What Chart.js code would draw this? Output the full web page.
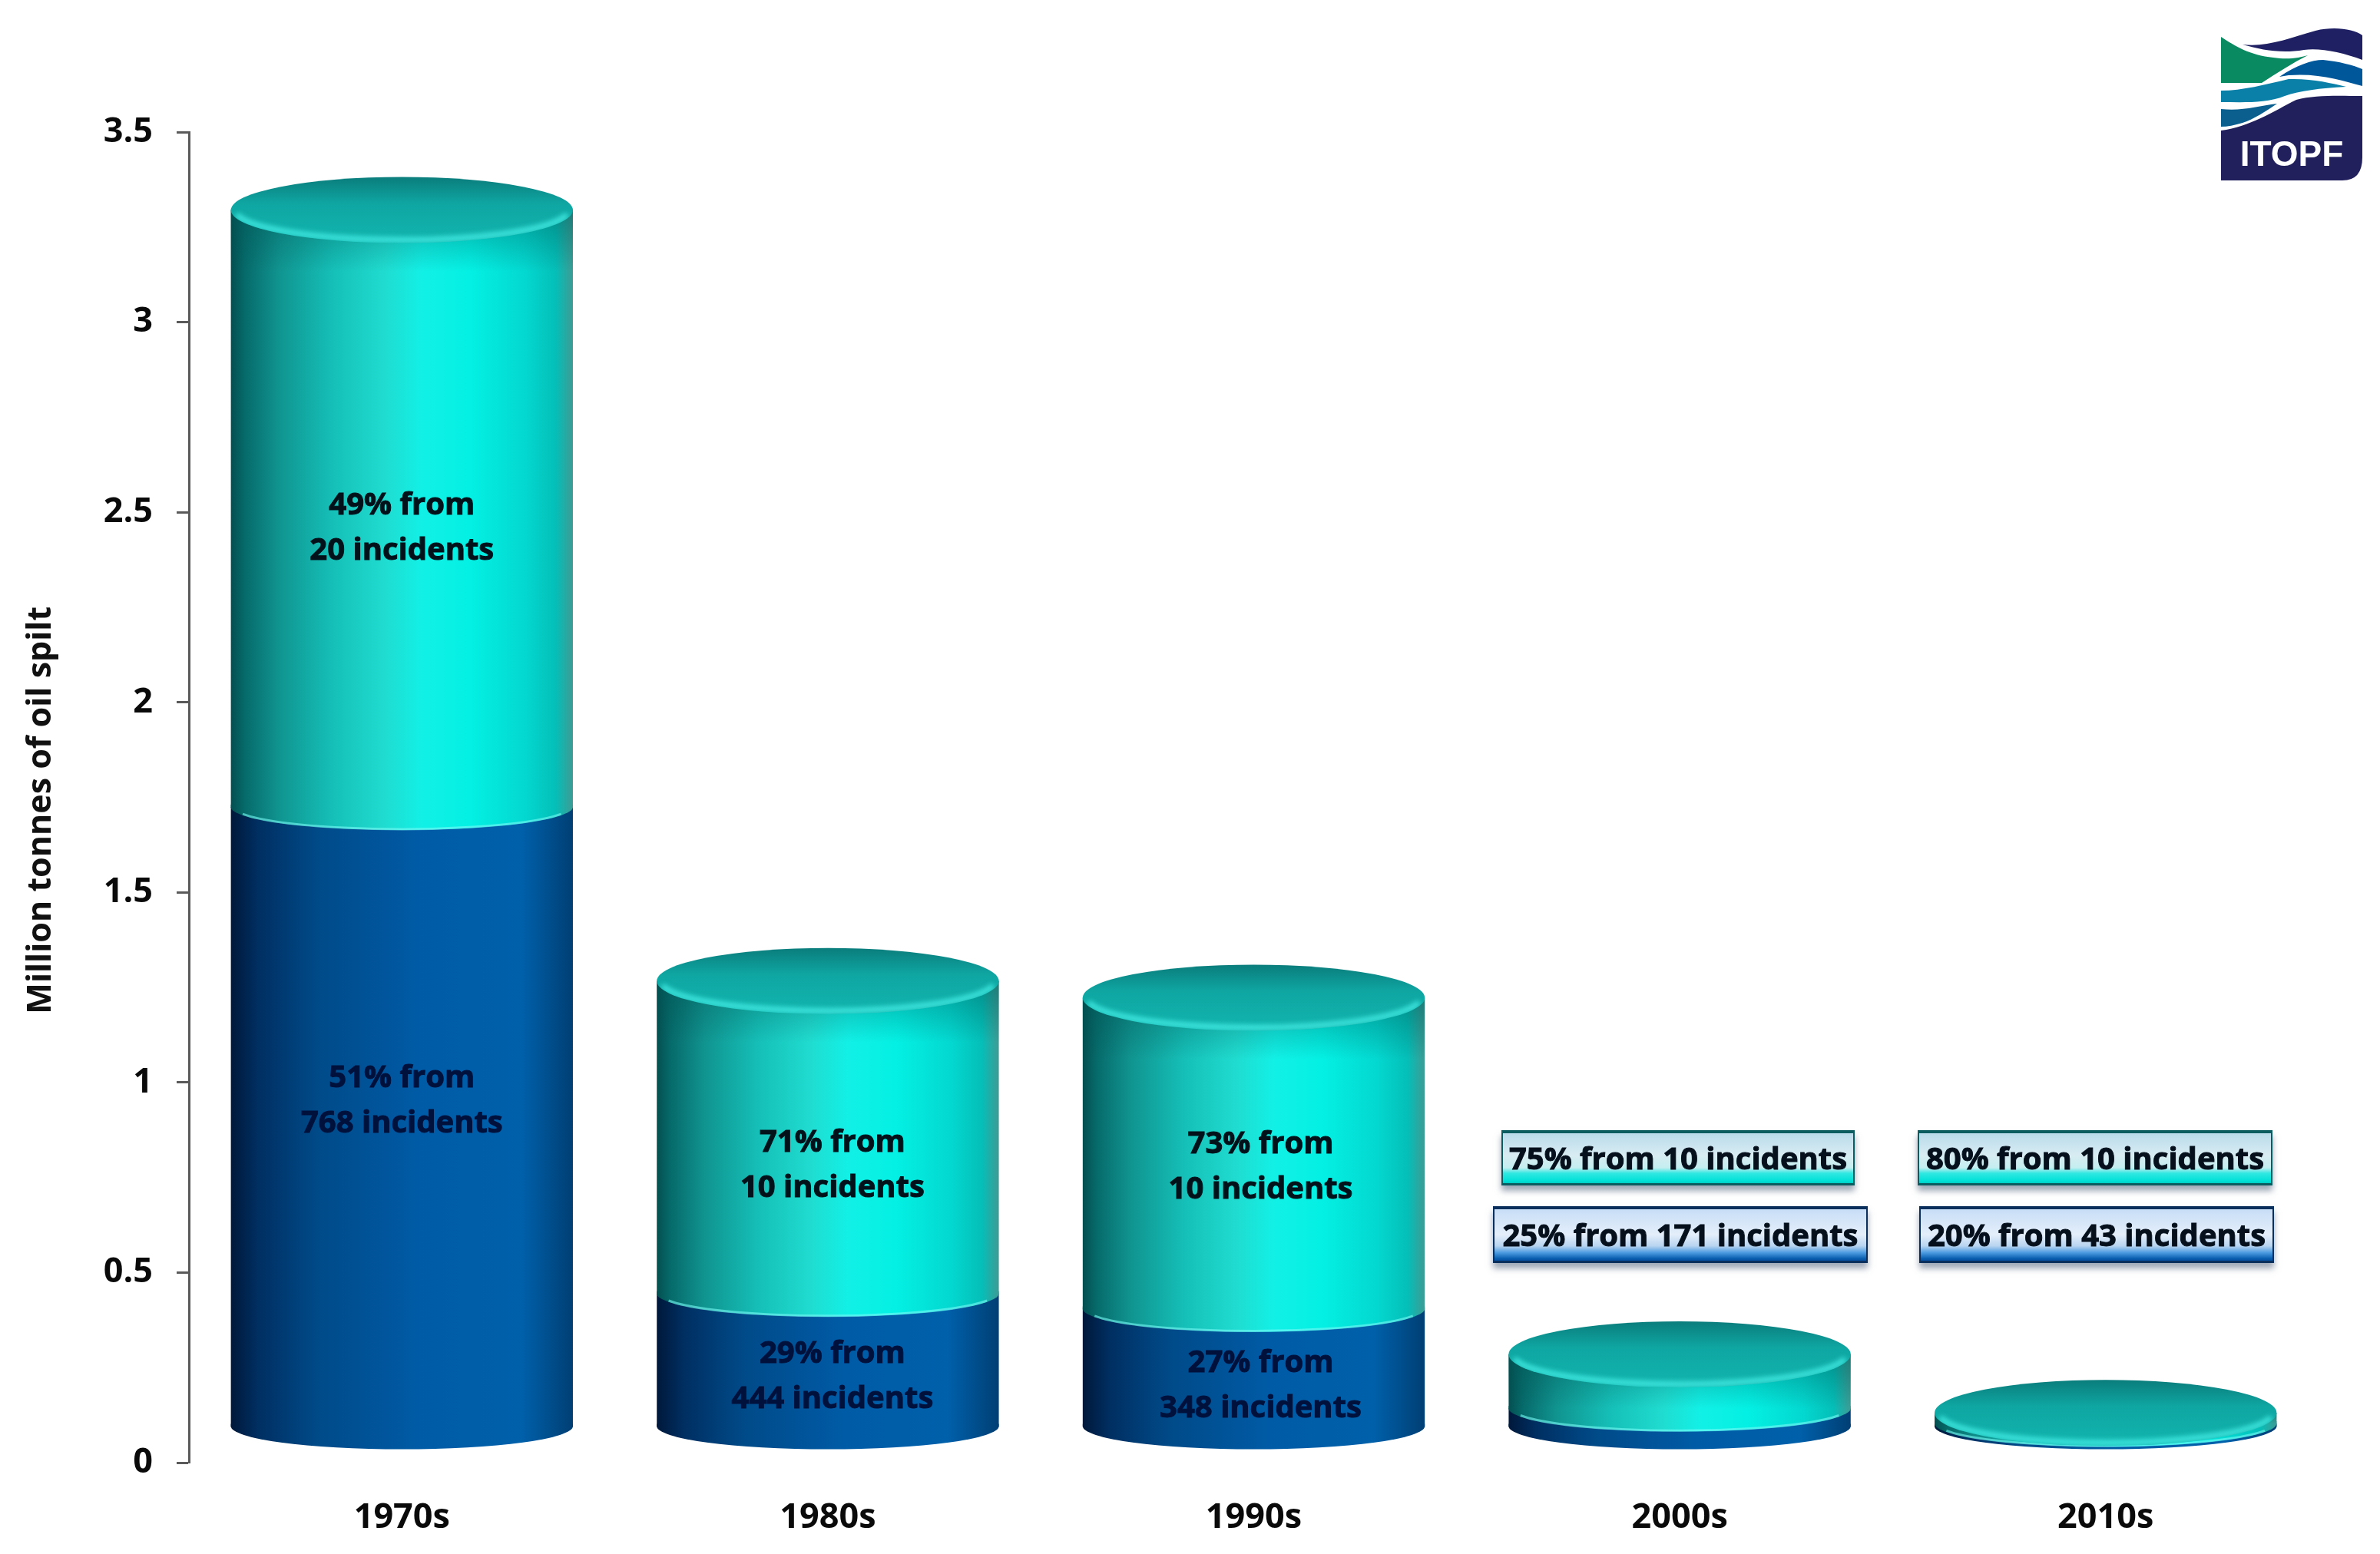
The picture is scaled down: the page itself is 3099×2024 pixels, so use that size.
<!DOCTYPE html>
<html>
<head>
<meta charset="utf-8">
<title>Oil spilt per decade</title>
<script src="https://cdn.jsdelivr.net/npm/chart.js@4/dist/chart.umd.min.js"></script>
<style>
html, body { margin: 0; padding: 0; background: #fff; }
canvas { display: block; }
</style>
</head>
<body>
<canvas id="spill-chart" width="3099" height="2024"></canvas>
<script>
// chart values (million tonnes)
const decades = ['1970s', '1980s', '1990s', '2000s', '2010s'];
const blueValues = [1.63, 0.35, 0.31, 0.048, 0.008];
const tealValues = [1.57, 0.822, 0.818, 0.142, 0.028];
const tealNotes = [['49% from', '20 incidents'], ['71% from', '10 incidents'], ['73% from', '10 incidents']];
const blueNotes = [['51% from', '768 incidents'], ['29% from', '444 incidents'], ['27% from', '348 incidents']];
const tealBoxes = ['75% from 10 incidents', '80% from 10 incidents'];
const blueBoxes = ['25% from 171 incidents', '20% from 43 incidents'];
const axisTitle = 'Million tonnes of oil spilt';
const logoName = 'ITOPF';

const FONT = '"Open Sans", "DejaVu Sans", sans-serif';
const BAR_SHARE = 0.803;
const LIFT = 47;        // the cylinders float above zero, as in the 3D original
const BASE_RY = 30;
const TOP_RY = 43;

function sideGradient(chart, i, stops) {
    const scale = chart.scales.x;
    const half = scale.width / decades.length * BAR_SHARE / 2;
    const x = scale.getPixelForValue(i);
    // options get resolved once before the first layout
    if (!Number.isFinite(x) || !Number.isFinite(half)) return stops[0][1];
    const g = chart.ctx.createLinearGradient(x - half, 0, x + half, 0);
    stops.forEach(s => g.addColorStop(s[0], s[1]));
    return g;
}

const TEAL_STOPS = [[0, '#044f50'], [0.04, '#066a6a'], [0.14, '#109490'], [0.3, '#15c0b8'], [0.45, '#20dcd0'], [0.56, '#12f0e6'], [0.7, '#04f0e4'], [0.86, '#03d8d0'], [0.95, '#04bfb8'], [1, '#3e9b94']];
const BLUE_STOPS = [[0, '#00183a'], [0.08, '#002f62'], [0.25, '#004a88'], [0.55, '#005ba6'], [0.85, '#0060aa'], [1, '#003f74']];

function ellipsePath(ctx, x, y, rx, ry, from, to) {
    ctx.beginPath();
    ctx.ellipse(x, y, rx, ry, 0, from, to);
}

function drawNote(ctx, x, y, lines, color) {
    ctx.fillStyle = color;
    ctx.strokeStyle = color;
    ctx.lineWidth = 1;
    ctx.font = 'bold 40px ' + FONT;
    ctx.textAlign = 'center';
    ctx.textBaseline = 'middle';
    lines.forEach((line, n) => {
        const ly = y + 4 + (n - (lines.length - 1) / 2) * 59;
        ctx.fillText(line, x, ly);
        ctx.strokeText(line, x, ly);
    });
}

function drawBox(ctx, cx, y, w, h, text, stops, edge) {
    const x = cx - w / 2;
    ctx.save();
    ctx.shadowColor = 'rgba(60,80,110,0.5)';
    ctx.shadowBlur = 8;
    ctx.shadowOffsetY = 7;
    const g = ctx.createLinearGradient(0, y, 0, y + h);
    stops.forEach(s => g.addColorStop(s[0], s[1]));
    ctx.fillStyle = g;
    ctx.fillRect(x, y, w, h);
    ctx.restore();
    ctx.fillStyle = edge;
    ctx.fillRect(x, y, w, 4);
    ctx.fillRect(x, y, 2, h);
    ctx.fillRect(x + w - 2, y, 2, h);
    ctx.fillRect(x, y + h - 3, w, 3);
    drawNote(ctx, cx, y + h / 2, [text], '#05101c');
}

function drawLogo(ctx) {
    ctx.save();
    ctx.translate(2850, 0);
    const shapes = [
        ['#211f5c', 'M42 170C80 165 110 145 140 130C165 123 200 125 226 125L226 205Q226 235 200 235L42 235Z'],
        ['#1f2063', 'M70 58C100 62 130 50 165 40C190 34 215 38 226 46L226 78C200 68 170 62 150 65C120 70 95 65 70 58Z'],
        ['#0a8a60', 'M42 48C60 60 80 72 110 75C130 78 145 75 155 72C135 82 115 95 95 108L42 108Z'],
        ['#00579a', 'M118 100C140 85 160 78 175 78C195 80 215 85 226 90L226 112C200 105 170 95 130 98Z'],
        ['#0a80a8', 'M42 118C70 118 100 110 130 103C160 102 185 108 205 113C170 115 145 118 125 125C100 135 70 133 42 133Z'],
        ['#0a5f8f', 'M42 142C70 145 90 138 115 135C100 145 85 155 70 160C60 163 50 165 42 165Z']
    ];
    shapes.forEach(s => { ctx.fillStyle = s[0]; ctx.fill(new Path2D(s[1])); });
    ctx.fillStyle = '#fff';
    ctx.font = 'bold 46px "Liberation Sans", sans-serif';
    ctx.textAlign = 'center';
    ctx.textBaseline = 'middle';
    ctx.fillText(logoName, 134, 203);
    ctx.restore();
}

const cylinders = {
    id: 'cylinders',
    beforeDatasetDraw(chart) {
        chart.ctx.save();
        chart.ctx.translate(0, -LIFT);
    },
    afterDatasetDraw(chart) {
        chart.ctx.restore();
    },
    afterDatasetsDraw(chart) {
        const ctx = chart.ctx;
        const y = chart.scales.y;
        const blue = chart.getDatasetMeta(0).data;
        const teal = chart.getDatasetMeta(1).data;

        ctx.save();
        ctx.translate(0, -LIFT);
        blue.forEach((bar, i) => {
            const r = bar.width / 2;
            ctx.fillStyle = sideGradient(chart, i, BLUE_STOPS);
            // overlap the wall a little so no seam shows
            ctx.fillRect(bar.x - r, bar.base - 3, bar.width, 4);
            ellipsePath(ctx, bar.x, bar.base, r, BASE_RY, 0, Math.PI);
            ctx.fill();
        });
        teal.forEach((bar, i) => {
            const r = bar.width / 2;
            ctx.fillStyle = sideGradient(chart, i, TEAL_STOPS);
            ctx.fillRect(bar.x - r, bar.base - 3, bar.width, 4);
            ellipsePath(ctx, bar.x, bar.base, r, BASE_RY, 0, Math.PI);
            ctx.fill();
            ctx.strokeStyle = 'rgba(120,250,245,0.6)';
            ctx.lineWidth = 3;
            ellipsePath(ctx, bar.x, bar.base - 1, r - 2, BASE_RY, 0.35, Math.PI - 0.35);
            ctx.stroke();

            // shade of the rim on the side wall
            const shadeH = Math.min(80, bar.base - bar.y);
            const shade = ctx.createLinearGradient(0, bar.y, 0, bar.y + shadeH);
            shade.addColorStop(0, 'rgba(0,80,80,0.45)');
            shade.addColorStop(1, 'rgba(0,80,80,0)');
            ctx.fillStyle = shade;
            ctx.fillRect(bar.x - r, bar.y, bar.width, shadeH);

            // cap
            const cap = ctx.createLinearGradient(0, bar.y - TOP_RY, 0, bar.y + TOP_RY);
            cap.addColorStop(0, '#0a7d7c');
            cap.addColorStop(0.4, '#0fa6a2');
            cap.addColorStop(1, '#12b5ae');
            ctx.fillStyle = cap;
            ellipsePath(ctx, bar.x, bar.y, r, TOP_RY, 0, Math.PI * 2);
            ctx.fill();
            ctx.save();
            ctx.clip();
            ctx.filter = 'blur(3px)';
            ctx.strokeStyle = 'rgba(70,240,232,0.85)';
            ctx.lineWidth = 7;
            ellipsePath(ctx, bar.x, bar.y, r - 5, TOP_RY - 4, 0.15, Math.PI - 0.15);
            ctx.stroke();
            ctx.restore();
        });
        ctx.restore();

        // notes sit at these values on the axis, a little right of the centre as in the original
        const tealAt = [2.465, 0.79, 0.785];
        const blueAt = [0.96, 0.235, 0.21];
        const noteShift = [0, 6, 9];
        tealNotes.forEach((lines, i) => drawNote(ctx, teal[i].x + noteShift[i], y.getPixelForValue(tealAt[i]), lines, '#03121a'));
        blueNotes.forEach((lines, i) => drawNote(ctx, blue[i].x + noteShift[i], y.getPixelForValue(blueAt[i]), lines, '#00113c'));

        const tealBoxStops = [[0, '#b5d8ea'], [0.45, '#d8ecf2'], [0.68, '#c4eef0'], [0.78, '#30e8e2'], [0.92, '#00e0d8'], [1, '#00b8b0']];
        const blueBoxStops = [[0, '#c4dcf6'], [0.5, '#e4eefa'], [0.7, '#b8d4f0'], [0.82, '#4a9ae0'], [0.92, '#0a5fb0'], [1, '#003c8c']];
        const boxCenters = [[2185, 2188], [2728, 2730]];
        const boxWidths = [[460, 488], [462, 462]];
        tealBoxes.forEach((text, i) => drawBox(ctx, boxCenters[i][0], 1472, boxWidths[i][0], 72, text, tealBoxStops, '#0b5c60'));
        blueBoxes.forEach((text, i) => drawBox(ctx, boxCenters[i][1], 1571, boxWidths[i][1], 74, text, blueBoxStops, '#0a2f5c'));

        drawLogo(ctx);
    }
};

new Chart(document.getElementById('spill-chart'), {
    type: 'bar',
    data: {
        labels: decades,
        datasets: [
            {
                label: 'Remaining incidents',
                data: blueValues,
                backgroundColor: c => sideGradient(c.chart, c.dataIndex, BLUE_STOPS),
                clip: false
            },
            {
                label: 'Largest incidents',
                data: tealValues,
                backgroundColor: c => sideGradient(c.chart, c.dataIndex, TEAL_STOPS),
                clip: false
            }
        ]
    },
    plugins: [cylinders],
    options: {
        responsive: false,
        animation: false,
        events: [],
        categoryPercentage: 1,
        barPercentage: BAR_SHARE,
        layout: { padding: { top: 172, right: 80, left: 0, bottom: 0 } },
        plugins: { legend: { display: false }, tooltip: { enabled: false } },
        scales: {
            x: {
                stacked: true,
                grid: { display: false, drawTicks: false },
                border: { display: false },
                afterFit: s => { s.height = 119; },
                ticks: { color: '#0a0a0a', padding: 45, font: { family: FONT, size: 45, weight: 'bold' } }
            },
            y: {
                stacked: true,
                min: 0,
                max: 3.5,
                afterFit: s => { s.width = 246; },
                border: { color: '#5a5a5a', width: 3 },
                grid: { drawOnChartArea: false, drawTicks: true, tickLength: 16, tickColor: '#5a5a5a', tickWidth: 3 },
                ticks: {
                    stepSize: 0.5,
                    color: '#0a0a0a',
                    padding: 31,
                    font: { family: FONT, size: 45, weight: 'bold' },
                    callback: v => String(v)
                },
                title: {
                    display: true,
                    text: axisTitle + '   ',
                    color: '#111',
                    font: { family: FONT, size: 43, weight: 'bold' },
                    padding: { top: 28, bottom: 0 }
                }
            }
        }
    }
});
</script>
</body>
</html>
